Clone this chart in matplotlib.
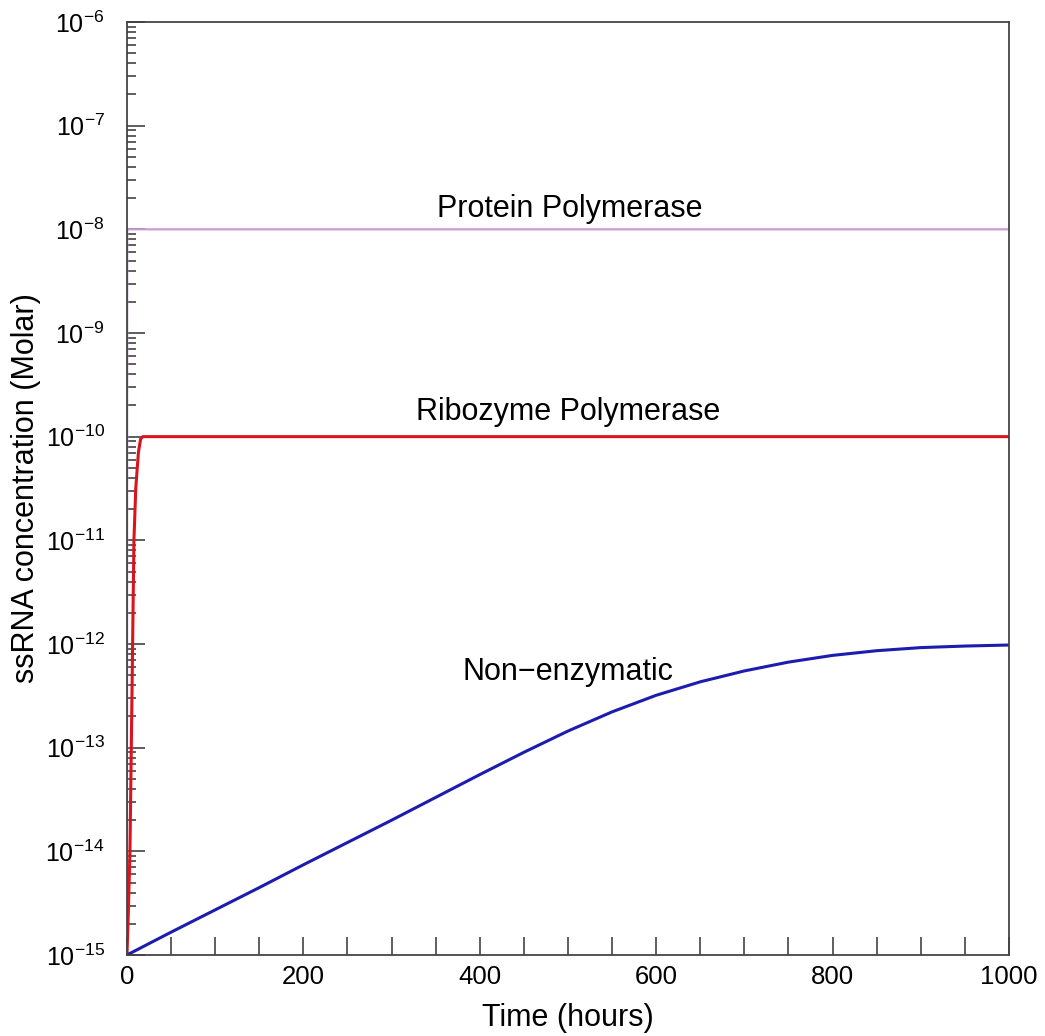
import math
import matplotlib
matplotlib.use("Agg")
import matplotlib.pyplot as plt
from matplotlib.ticker import MultipleLocator, LogLocator, NullFormatter, FuncFormatter

plt.rcParams['font.family'] = ['Liberation Sans', 'DejaVu Sans']
plt.rcParams['mathtext.default'] = 'regular'

# Non-enzymatic ssRNA, log10 of concentration every 50 h
t_non = [0, 50, 100, 150, 200, 250, 300, 350, 400, 450, 500,
         550, 600, 650, 700, 750, 800, 850, 900, 950, 1000]
log_non = [-15.0, -14.78, -14.565, -14.35, -14.13, -13.915, -13.70, -13.48, -13.26, -13.045, -12.84,
           -12.655, -12.495, -12.365, -12.26, -12.175, -12.11, -12.065, -12.035, -12.02, -12.01]
c_non = [10 ** v for v in log_non]

# Ribozyme polymerase
t_ribo = [0, 1.5, 3.4, 4.9, 6.4, 7.9, 10.0, 13.0, 15.5, 18.0, 1000]
c_ribo = [1e-15, 2.5e-15, 1e-14, 1e-13, 1e-12, 1e-11, 3.2e-11, 7.1e-11, 9.5e-11, 1e-10, 1e-10]

# Protein polymerase
t_prot = [0, 0.3, 1000]
c_prot = [1e-15, 1e-8, 1e-8]

y_decades = [-15, -14, -13, -12, -11, -10, -9, -8, -7, -6]

labels = ["Protein Polymerase", "Ribozyme Polymerase", "Non\u2212enzymatic"]
label_x = [502, 500, 500]
label_y = [10**-7.8, 10**-9.76, 10**-12.27]

fig = plt.figure(figsize=(10.45, 10.36), dpi=100)
ax = fig.add_axes([0.1215, 0.0782, 0.844, 0.9006])

ax.plot(t_prot, c_prot, color='#c99ad4', lw=1.6)
ax.plot(t_ribo, c_ribo, color='#d9141c', lw=2.2)
ax.plot(t_non, c_non, color='#1c1cae', lw=2.2)

ax.set_yscale('log')
ax.set_xlim(0, 1000)
ax.set_ylim(1e-15, 1e-6)

ax.xaxis.set_major_locator(MultipleLocator(200))
ax.xaxis.set_minor_locator(MultipleLocator(50))
ax.set_yticks([10.0 ** d for d in y_decades])
ax.yaxis.set_minor_locator(LogLocator(base=10, subs=range(2, 10), numticks=20))
ax.yaxis.set_minor_formatter(NullFormatter())
ax.yaxis.set_major_formatter(FuncFormatter(lambda v, p: r'$10^{%d}$' % round(math.log10(v))))
ax.set_ylim(1e-15, 1e-6)

ax.tick_params(axis='x', which='both', direction='in', length=13, width=1.1,
               color='#333333', labelsize=18.5, pad=7, top=False)
ax.tick_params(axis='y', which='major', direction='in', length=13, width=1.1,
               color='#333333', labelsize=18, pad=16, right=False)
ax.tick_params(axis='y', which='minor', direction='in', length=6.5, width=1.1,
               color='#333333', right=False)
for lab in ax.get_yticklabels():
    lab.set_verticalalignment('center_baseline')

for s in ax.spines.values():
    s.set_color('#444444')
    s.set_linewidth(1.3)

for txt, x, y in zip(labels, label_x, label_y):
    ax.text(x, y, txt, ha='center', va='center', fontsize=22)

ax.set_xlabel('Time (hours)', fontsize=22)
ax.xaxis.set_label_coords(0.5, -0.051)
ax.set_ylabel('ssRNA concentration (Molar)', fontsize=22)
ax.yaxis.set_label_coords(-0.097, 0.5)

fig.savefig('out.png', dpi=100)
